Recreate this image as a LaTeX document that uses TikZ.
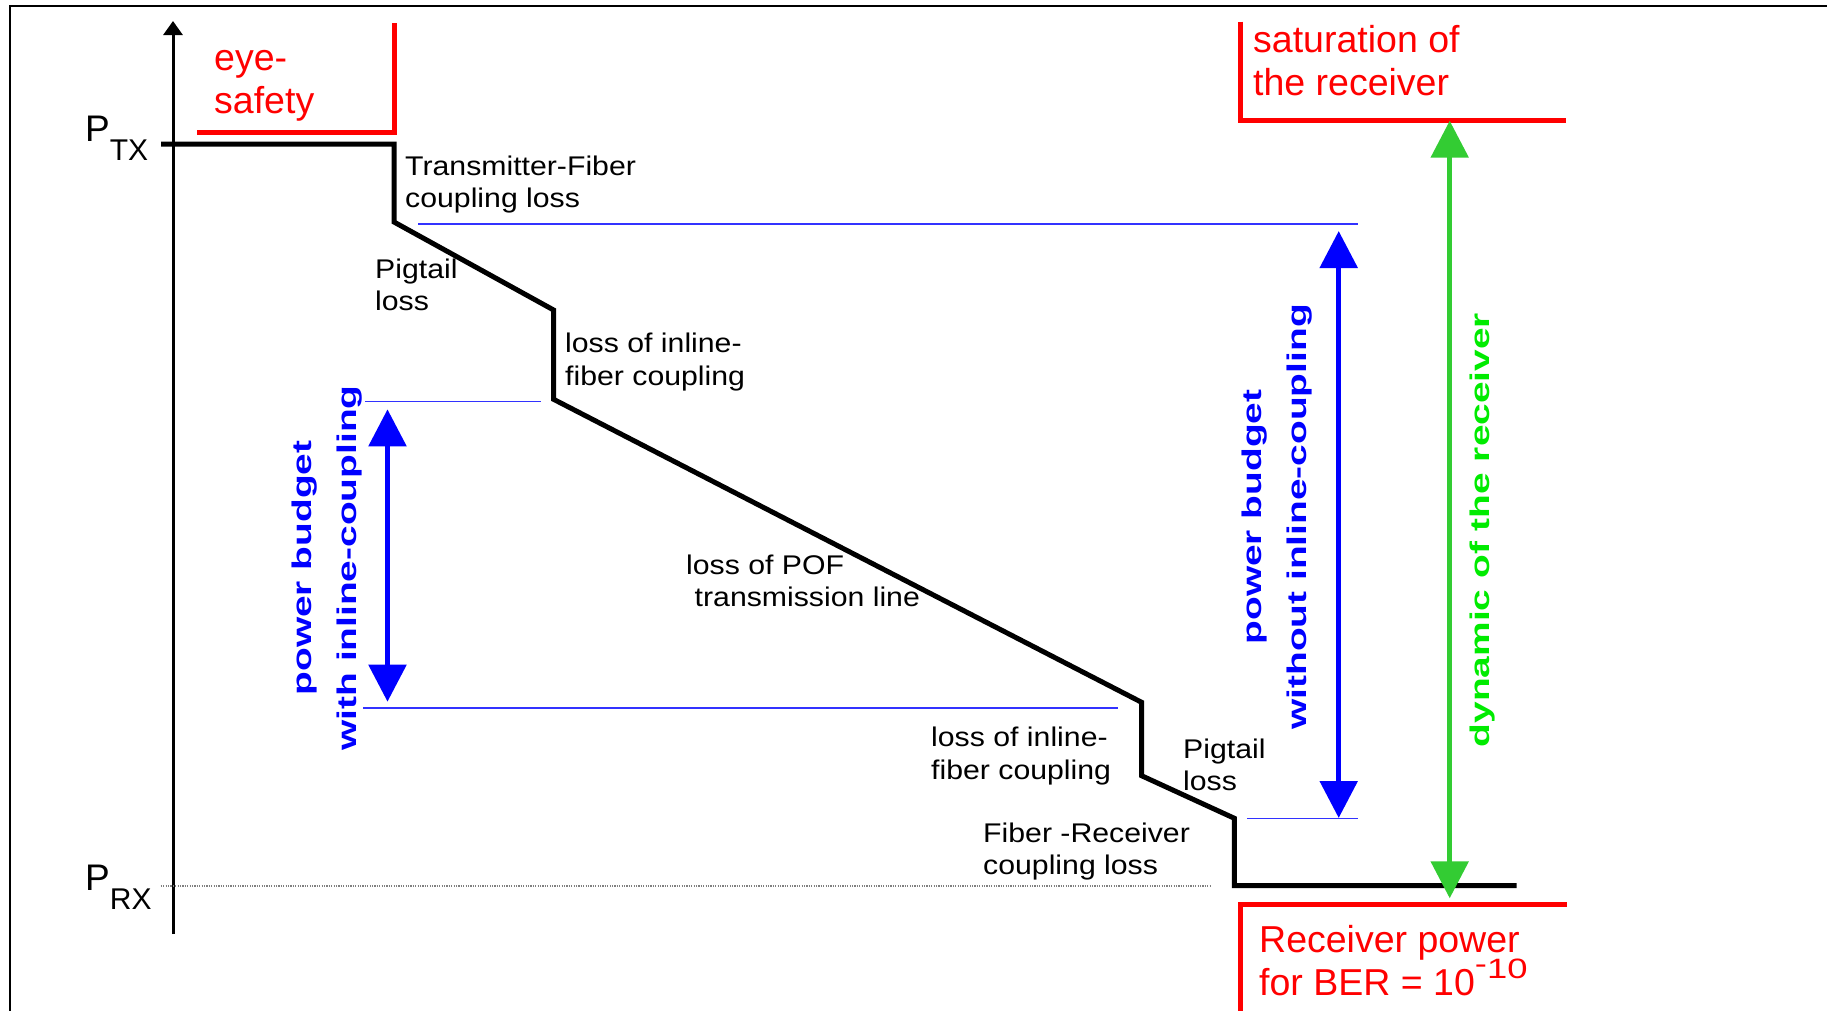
\documentclass[tikz,border=0pt]{standalone}
\usepackage{fontspec}
\setmainfont{Liberation Sans}
\newfontfamily\lblfont{Liberation Sans}[FakeStretch=1.12]
\newfontfamily\widefont{Liberation Sans}[FakeStretch=1.44]
\newfontfamily\supfont{Liberation Sans}[FakeStretch=1.3]
\usetikzlibrary{arrows.meta}
\definecolor{pred}{RGB}{255,0,0}
\definecolor{pblue}{RGB}{0,0,255}
\definecolor{thinblue}{RGB}{50,50,255}
\definecolor{agreen}{RGB}{51,204,51}
\definecolor{tgreen}{RGB}{0,235,0}
\begin{document}
\begin{tikzpicture}[x=1pt,y=-1pt,
  lbl/.style={anchor=base west, inner sep=0pt, align=left, font=\lblfont\fontsize{27}{32.5}\selectfont},
  redlbl/.style={anchor=base west, inner sep=0pt, align=left, text=pred, font=\fontsize{37.5}{42.5}\selectfont},
  vtext/.style={rotate=90, inner sep=0pt, align=center, font=\widefont\bfseries\fontsize{27}{45}\selectfont},
  powerline/.style={line width=5pt, line join=miter},
  redline/.style={line width=5pt, draw=pred, line join=miter},
  guide/.style={draw=thinblue, line width=1.3pt},
  dimarrow/.style={line width=5.5pt, {Triangle[length=37pt,width=37pt]}-{Triangle[length=37pt,width=37pt]}},
]
\useasboundingbox (0,0) rectangle (1827,1010);
\clip (0,0) rectangle (1827,1010);
\fill[white] (0,0) rectangle (1827,1010);

% frame
\coordinate (fbl) at (10,1030);
\coordinate (ftl) at (10,6);
\coordinate (ftr) at (1850,6);
\draw[line width=2.5pt] (fbl) -- (ftl) -- (ftr);

% axis
\coordinate (ax0) at (173,934);
\coordinate (ax1) at (173,21);
\draw[line width=3pt, -{Triangle[length=14pt,width=19pt]}] (ax0) -- (ax1);

% axis labels
\node[anchor=base west, inner sep=0pt, font=\fontsize{37}{37}\selectfont] (ptx) at (85,141.7)
  {P\raisebox{-18.5pt}{\fontsize{30}{30}\selectfont TX}};
\node[anchor=base west, inner sep=0pt, font=\fontsize{37}{37}\selectfont] (prx) at (85,890.7)
  {P\raisebox{-19pt}{\fontsize{30}{30}\selectfont RX}};

% dotted PRX level
\coordinate (d0) at (160.7,886);
\coordinate (d1) at (1210,886);
\draw[gray, line width=1.2pt, dash pattern=on 1.2pt off 1.2pt] (d0) -- (d1);

% thin blue guide lines
\coordinate (g1a) at (418,224);   \coordinate (g1b) at (1358,224);
\coordinate (g2a) at (365,401.7); \coordinate (g2b) at (541,401.7);
\coordinate (g3a) at (363,708);   \coordinate (g3b) at (1118,708);
\coordinate (g4a) at (1247,818.3);\coordinate (g4b) at (1358,818.3);
\draw[guide] (g1a) -- (g1b);
\draw[guide] (g2a) -- (g2b);
\draw[guide] (g3a) -- (g3b);
\draw[guide] (g4a) -- (g4b);

% power level line
\coordinate (p0) at (161,144);
\coordinate (p1) at (394,144);
\coordinate (p2) at (394,222);
\coordinate (p3) at (553.6,310);
\coordinate (p4) at (553.6,399.3);
\coordinate (p5) at (1141.6,702.3);
\coordinate (p6) at (1141.6,775.7);
\coordinate (p7) at (1234.4,818.3);
\coordinate (p8) at (1234.4,885.7);
\coordinate (p9) at (1516.7,885.7);
\draw[powerline] (p0) -- (p1) -- (p2) -- (p3) -- (p4) -- (p5) -- (p6) -- (p7) -- (p8) -- (p9);

% red limits
\coordinate (e0) at (197,132.3); \coordinate (e1) at (394,132.3); \coordinate (e2) at (394,23);
\draw[redline] (e0) -- (e1) -- (e2);
\coordinate (s0) at (1240.7,21.7); \coordinate (s1) at (1240.7,120); \coordinate (s2) at (1566,120);
\draw[redline] (s0) -- (s1) -- (s2);
\coordinate (r0) at (1566.5,904); \coordinate (r1) at (1240.6,904); \coordinate (r2) at (1240.6,1020);
\draw[redline] (r0) -- (r1) -- (r2);

% double arrows
\coordinate (a1t) at (387.5,409.3);  \coordinate (a1b) at (387.5,701.7);
\coordinate (a2t) at (1338.7,231);   \coordinate (a2b) at (1338.7,818);
\coordinate (a3t) at (1449.7,120.7); \coordinate (a3b) at (1449.7,898.3);
\draw[dimarrow, pblue] (a1t) -- (a1b);
\draw[dimarrow, pblue] (a2t) -- (a2b);
\draw[dimarrow, agreen] (a3t) -- (a3b);

% black labels (anchored at the baseline of their last line)
\node[lbl] (tf)  at (405,207.5)   {Transmitter-Fiber\\coupling loss};
\node[lbl] (pg1) at (375,310.5)   {Pigtail\\loss};
\node[lbl] (il1) at (565,385)     {loss of inline-\\fiber coupling};
\node[lbl] (pof) at (686,606.5)   {loss of POF\\\hspace*{8.5pt}transmission line};
\node[lbl] (il2) at (931,779.2)   {loss of inline-\\fiber coupling};
\node[lbl] (pg2) at (1183,790.5)  {Pigtail\\loss};
\node[lbl] (fr)  at (983,874.5)   {Fiber -Receiver\\coupling loss};

% red labels (anchored at the baseline of their last line)
\node[redlbl] (eye) at (214,113.2)  {eye-\\safety};
\node[redlbl] (sat) at (1253,95.2)  {saturation of\\the receiver};
\node[redlbl] (rxp) at (1259,995.2)
  {Receiver power\\for BER = 10\smash{\raisebox{17pt}{\supfont\fontsize{28}{28}\selectfont\raisebox{5pt}{-}10}}};

% rotated labels
\node[vtext, text=pblue]  (pbw)  at (327,568)  {power budget\\with inline-coupling};
\node[vtext, text=pblue]  (pbwo) at (1277,517) {power budget\\without inline-coupling};
\node[vtext, text=tgreen] (dyn)  at (1482,530) {dynamic of the receiver};
\end{tikzpicture}
\end{document}
